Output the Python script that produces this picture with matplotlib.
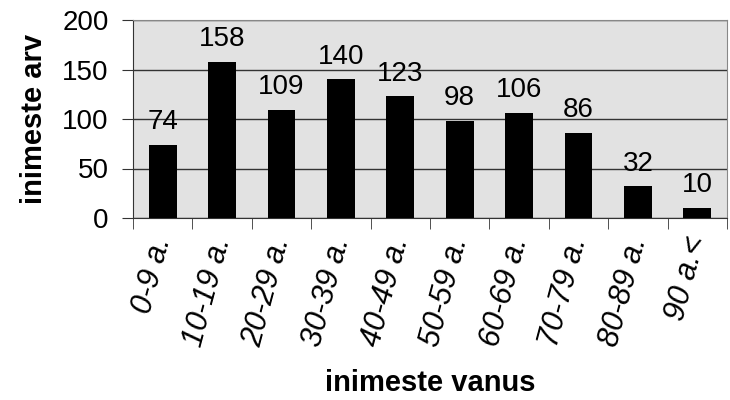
import matplotlib
matplotlib.use("Agg")
import matplotlib.pyplot as plt
import numpy as np

categories = ["0-9 a.", "10-19 a.", "20-29 a.", "30-39 a.", "40-49 a.",
              "50-59 a.", "60-69 a.", "70-79 a.", "80-89 a.", "90 a.<"]
values = [74, 158, 109, 140, 123, 98, 106, 86, 32, 10]
yticks = [0, 50, 100, 150, 200]

plt.rcParams['font.family'] = ['Liberation Sans', 'DejaVu Sans']

fig = plt.figure(figsize=(7.3, 4.0), dpi=100)
ax = fig.add_axes([133/730, 1-218/400, (727-133)/730, (218-20)/400])
ax.set_facecolor('#e2e2e2')

x = np.arange(len(categories))
ax.bar(x, values, width=0.47, color='black', zorder=3)
for xi, v in zip(x, values):
    ax.annotate(str(v), (xi, v), xytext=(0, 7), textcoords='offset points',
                ha='center', va='bottom', fontsize=20, zorder=4)

ax.set_xlim(-0.5, len(categories) - 0.5)
ax.set_ylim(0, 200)
ax.set_yticks(yticks)
ax.set_yticklabels([str(t) for t in yticks], fontsize=20)
ax.yaxis.grid(True, color='#333333', linewidth=1.0, zorder=1)
ax.set_axisbelow(True)

ax.set_xticks(x)
ax.set_xticklabels(categories, rotation=75, ha='right', va='center',
                   rotation_mode='anchor', fontsize=22, style='italic')
ax.tick_params(axis='x', length=0, pad=14)
ax.set_xticks(np.arange(-0.5, len(categories) + 0.5, 1), minor=True)
ax.tick_params(axis='x', which='minor', length=8, direction='out', color='#333333')
ax.tick_params(axis='y', length=8, direction='out', color='#333333', pad=9.5)

for s in ['left', 'bottom']:
    ax.spines[s].set_color('#333333')
for s in ['top', 'right']:
    ax.spines[s].set_color('#888888')

ax.set_ylabel('inimeste arv', fontsize=21, fontweight='bold', labelpad=10)
ax.set_xlabel('inimeste vanus', fontsize=21, fontweight='bold')
ax.xaxis.set_label_coords(0.5, -0.765)

fig.savefig('out.png', dpi=100)
